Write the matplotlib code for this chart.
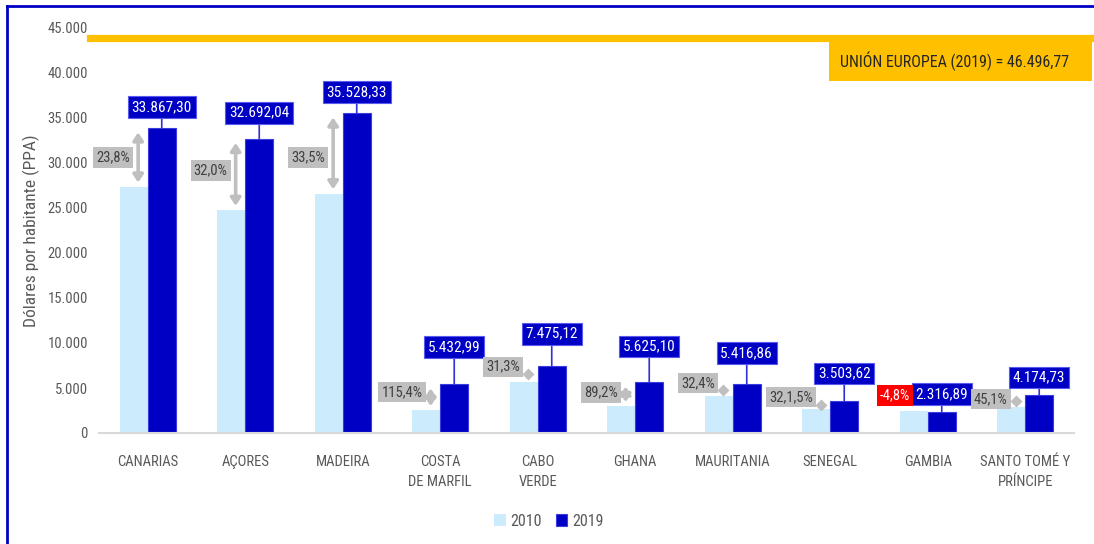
import matplotlib
matplotlib.use("Agg")
import matplotlib.pyplot as plt
from matplotlib import font_manager
from matplotlib.patches import Rectangle
from matplotlib.lines import Line2D
from matplotlib.transforms import blended_transform_factory
import numpy as np

# fuente estrecha tipo Calibri si existe
FONT = "DejaVu Sans"
for f in ["Liberation Sans Narrow", "Roboto Condensed", "Open Sans"]:
    try:
        font_manager.findfont(f, fallback_to_default=False); FONT = f; break
    except Exception:
        pass
plt.rcParams["font.family"] = [FONT, "DejaVu Sans"]

# ====== datos ======
regiones = ["CANARIAS", "AÇORES", "MADEIRA", "COSTA\nDE MARFIL", "CABO\nVERDE",
            "GHANA", "MAURITANIA", "SENEGAL", "GAMBIA", "SANTO TOMÉ Y\nPRÍNCIPE"]
v2019 = [33867.30, 32692.04, 35528.33, 5432.99, 7475.12, 5625.10, 5416.86, 3503.62, 2316.89, 4174.73]
v2010 = [27360, 24770, 26610, 2520, 5690, 2970, 4090, 2660, 2430, 2880]
pct_txt = ["23,8%", "32,0%", "33,5%", "115,4%", "31,3%", "89,2%", "32,4%", "32,1,5%", "-4,8%", "45,1%"]
lab2019 = ["33.867,30", "32.692,04", "35.528,33", "5.432,99", "7.475,12", "5.625,10",
           "5.416,86", "3.503,62", "2.316,89", "4.174,73"]
ue_txt = "UNIÓN EUROPEA (2019) = 46.496,77"
ue_nivel = 43850          # barra amarilla decorativa
yticks = np.arange(0, 45001, 5000)

# estilo de etiquetas (px)
off_lab = [21, 26, 21, 37, 32, 36, 31, 28, 18, 18]     # caja azul sobre la barra
off_pct = [0, 4, -4, 5, 7, 2, 7, 8, 16, 2]              # caja gris respecto al punto medio

C_LIGHT, C_DARK, C_GRAY, C_TXT = "#CCEBFD", "#0000C4", "#BFBFBF", "#595959"

fig = plt.figure(figsize=(10.94, 5.44), dpi=100)
W, H = 1094, 544
ax = fig.add_axes([99 / W, 1 - 433 / H, (1074 - 99) / W, (433 - 28) / H])

x = np.arange(len(regiones))
bw = 0.287
ax.bar(x - bw / 2, v2010, bw, color=C_LIGHT, label="2010", zorder=2)
ax.bar(x + bw / 2, v2019, bw, color=C_DARK, edgecolor="#3B3BE0", linewidth=0.8, label="2019", zorder=2)

ax.set_xlim(-0.5, 9.5); ax.set_ylim(0, 45000)
ax.set_xticks(x); ax.set_xticklabels(regiones, fontsize=10.5, color=C_TXT, linespacing=1.55)
ax.set_yticks(yticks)
ax.set_yticklabels([f"{int(t):,}".replace(",", ".") for t in yticks], fontsize=10.5, color=C_TXT)
ax.tick_params(length=0, pad=16)
ax.tick_params(axis="y", pad=8)
for s in ["top", "right", "left"]: ax.spines[s].set_visible(False)
ax.spines["bottom"].set_color("#D9D9D9"); ax.spines["bottom"].set_linewidth(1.5)
ax.set_ylabel("Dólares por habitante (PPA)", fontsize=12.5, color=C_TXT, labelpad=12)
ax.yaxis.set_label_coords(-0.06, 0.5)

# etiquetas 2019 (cajas azules con conector)
for i in range(len(x)):
    ax.annotate(lab2019[i], xy=(x[i] + bw / 2, v2019[i]), xytext=(0, off_lab[i]),
                textcoords="offset pixels", ha="center", va="center", fontsize=11, color="white",
                bbox=dict(boxstyle="square,pad=0.25", fc=C_DARK, ec="#5A5AF0", lw=0.8),
                arrowprops=dict(arrowstyle="-", color="#3030D8", lw=1.2, shrinkA=0, shrinkB=0),
                zorder=5)

# variación 2010-2019 (flecha o rombo + caja gris)
for i in range(len(x)):
    xa = x[i] - bw / 2 + 0.045
    mid = (v2010[i] + v2019[i]) / 2
    neg = v2019[i] < v2010[i]
    if not neg:
        if v2019[i] - v2010[i] > 2200:
            ax.annotate("", xy=(xa, v2019[i]), xytext=(xa, v2010[i]),
                        arrowprops=dict(arrowstyle="<|-|>,head_length=0.45,head_width=0.3",
                                        color=C_GRAY, lw=2.6, shrinkA=3, shrinkB=3), zorder=4)
        else:
            ax.plot(xa, mid, marker="D", ms=6.5, color=C_GRAY, mec="none", zorder=4)
    ax.annotate(pct_txt[i], xy=(xa, mid), xytext=(-8, off_pct[i]), textcoords="offset pixels",
                ha="right", va="center", fontsize=10.5, color="white" if neg else "#404040",
                bbox=dict(boxstyle="square,pad=0.22", fc="#FF0000" if neg else C_GRAY, ec="none"),
                zorder=5)

# barra UE
tr = blended_transform_factory(fig.transFigure, ax.transData)
fig.add_artist(Line2D([90 / W, 1.0], [ue_nivel, ue_nivel], transform=tr, color="#FFC000", lw=5.2))
fig.add_artist(Rectangle((829 / W, 1 - 81 / H), (1092 - 829) / W, 39 / H,
                         transform=fig.transFigure, fc="#FFC000", ec="none"))
fig.text(840 / W, 1 - 61.5 / H, ue_txt, fontsize=11.5, color="#262626", va="center", ha="left")

# marco
fig.add_artist(Line2D([7 / W, 7 / W], [0, 1 - 6 / H], transform=fig.transFigure, color="#0000C4", lw=2))
fig.add_artist(Line2D([7 / W, 1], [1 - 6 / H, 1 - 6 / H], transform=fig.transFigure, color="#0000C4", lw=2))

leg = fig.legend(loc="center", bbox_to_anchor=(549 / W, 1 - 521 / H), ncol=2, frameon=False,
                 fontsize=11.5, handlelength=0.7, handleheight=0.7, handletextpad=0.3, columnspacing=0.9)
for t in leg.get_texts(): t.set_color(C_TXT)

fig.savefig("out.png", dpi=100)
